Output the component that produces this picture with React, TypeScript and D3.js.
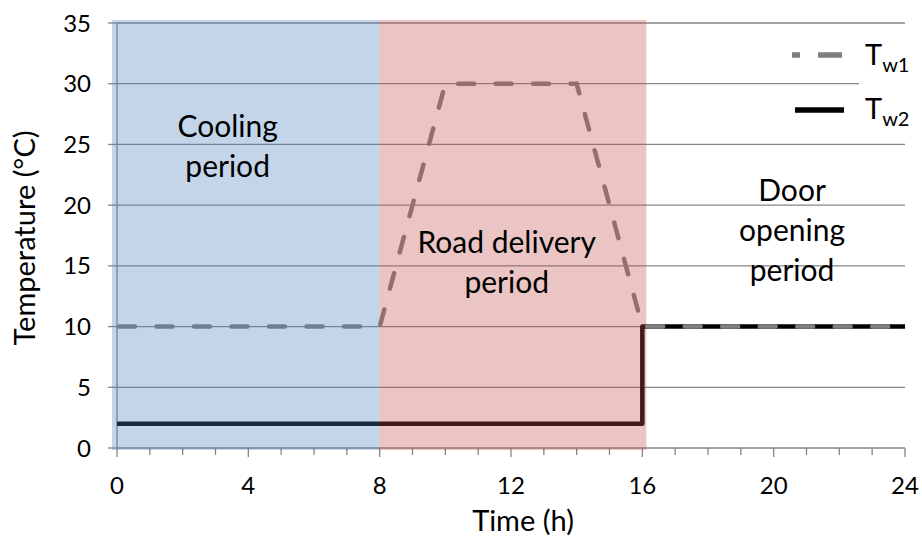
import React from "react";
import * as d3 from "d3";

const hours = [0, 8, 10, 14, 16, 24];
const tw1Values = [10, 10, 30, 30, 10, 10];
const tw2Hours = [0, 16, 16, 24];
const tw2Values = [2, 2, 10, 10];
const xTicks = [0, 4, 8, 12, 16, 20, 24];
const yTicks = [0, 5, 10, 15, 20, 25, 30, 35];
const periods = [
  { start: 0, end: 8, color: "#4F81BD" },
  { start: 8, end: 16, color: "#C0504D" },
];
const annotations = [
  { x: 3.37, lines: ["Cooling", "period"], y0: 137 },
  { x: 11.87, lines: ["Road delivery", "period"], y0: 253 },
  { x: 20.56, lines: ["Door", "opening", "period"], y0: 201 },
];

const W = 922;
const H = 540;
const FONT = "Lato, 'Open Sans', sans-serif";

export default function App() {
  const x = d3.scaleLinear().domain([0, 24]).range([117, 905]);
  const y = d3.scaleLinear().domain([0, 35]).range([448, 23]);
  const grid = "#868686";

  const line1 = d3
    .line<number>()
    .x((_, i) => x(hours[i]))
    .y((d) => y(d));
  const line2 = d3
    .line<number>()
    .x((_, i) => x(tw2Hours[i]))
    .y((d) => y(d));

  const minor = d3.range(0, 25, 1);

  return (
    <svg
      width={W}
      height={H}
      style={{ position: "absolute", left: 0, top: 0, background: "#fff" }}
      fontFamily={FONT}
    >
      {/* gridlines */}
      {yTicks.slice(1).map((t) => (
        <line key={t} x1={x(0)} x2={x(24)} y1={y(t)} y2={y(t)} stroke={grid} strokeWidth={1.3} />
      ))}
      {/* axes */}
      <line x1={x(0)} x2={x(24)} y1={y(0)} y2={y(0)} stroke={grid} strokeWidth={1.3} />
      <line x1={x(0)} x2={x(0)} y1={y(0)} y2={y(35)} stroke={grid} strokeWidth={1.3} />
      {yTicks.map((t) => (
        <line key={t} x1={x(0) - 9} x2={x(0)} y1={y(t)} y2={y(t)} stroke={grid} strokeWidth={1.3} />
      ))}
      {minor.map((t) => (
        <line key={t} x1={x(t)} x2={x(t)} y1={y(0)} y2={y(0) + (t % 4 === 0 ? 9 : 7)} stroke={grid} strokeWidth={1.3} />
      ))}
      {/* series */}
      <path d={line2(tw2Values) || ""} fill="none" stroke="#000" strokeWidth={4.5} strokeLinejoin="round" />
      <path
        d={line1(tw1Values) || ""}
        fill="none"
        stroke="#7f7f7f"
        strokeWidth={4.5}
        strokeDasharray="16 21.5"
        strokeLinecap="round"
        strokeDashoffset={-2}
      />
      {/* shaded periods overlay */}
      {periods.map((p, i) => (
        <rect
          key={i}
          x={x(p.start) - (i === 0 ? 5 : 0)}
          width={x(p.end) - x(p.start) + (i === 0 ? 5 : 4)}
          y={y(35) - 3}
          height={y(0) - y(35) + 5}
          fill={p.color}
          opacity={0.33}
        />
      ))}
      {/* annotations */}
      {annotations.map((a, i) => (
        <text key={i} x={x(a.x)} textAnchor="middle" fontSize={30} fill="#000">
          {a.lines.map((l, j) => (
            <tspan key={j} x={x(a.x)} y={a.y0 + j * 40}>
              {l}
            </tspan>
          ))}
        </text>
      ))}
      {/* tick labels */}
      {xTicks.map((t) => (
        <text key={t} x={x(t)} y={494} textAnchor="middle" fontSize={24} fill="#000">
          {t}
        </text>
      ))}
      {yTicks.map((t) => (
        <text key={t} x={91} y={y(t) + 8.5} textAnchor="end" fontSize={24} fill="#000">
          {t}
        </text>
      ))}
      {/* axis titles */}
      <text x={523} y={531} textAnchor="middle" fontSize={29} fill="#000">
        Time (h)
      </text>
      <text
        transform={`translate(35,238) rotate(-90)`}
        textAnchor="middle"
        fontSize={29}
        fill="#000"
      >
        Temperature (°C)
      </text>
      {/* legend */}
      <rect x={859} y={36} width={63} height={98} fill="#fff" />
      <line x1={792} x2={844} y1={55} y2={55} stroke="#7f7f7f" strokeWidth={5.5} strokeDasharray="8 18 24 100" />
      <line x1={795} x2={844} y1={110} y2={110} stroke="#000" strokeWidth={5.5} />
      <text x={865} y={65} fontSize={29} fill="#000">
        T<tspan fontSize={20} dy={7}>w1</tspan>
      </text>
      <text x={865} y={119} fontSize={29} fill="#000">
        T<tspan fontSize={20} dy={7}>w2</tspan>
      </text>
    </svg>
  );
}
